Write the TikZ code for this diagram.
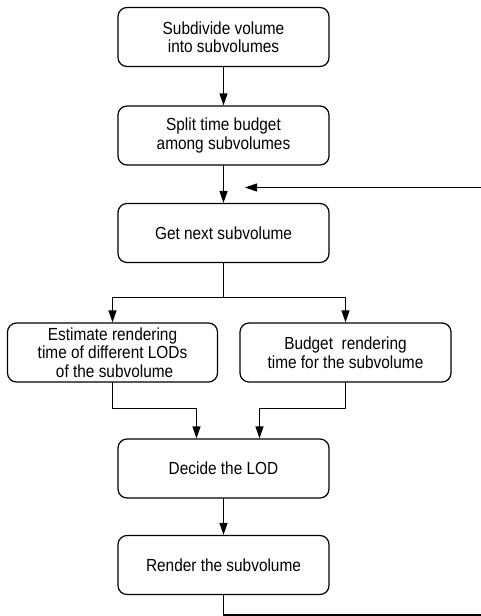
\documentclass[tikz,border=0pt]{standalone}
\usepackage{fontspec}
\setmainfont[FakeStretch=0.88]{Liberation Sans}
\usetikzlibrary{arrows.meta}

\begin{document}
\begin{tikzpicture}[x=1pt,y=-1pt,line cap=round,line join=round,
  stepbox/.style={draw,rounded corners=9pt,line width=1.2pt,minimum width=211pt,
    minimum height=59pt,inner sep=0pt,align=center,font=\fontsize{17.5}{18.5}\selectfont},
  flow/.style={line width=1.2pt,-{Triangle[length=12pt,width=8pt]}},
  link/.style={line width=1.2pt}]
  \useasboundingbox (0,0) rectangle (481,616);

  \node[stepbox] (subdiv) at (223.5,37) {Subdivide volume\\into subvolumes};
  \node[stepbox] (split) at (223.5,135.5) {Split time budget\\among subvolumes};
  \node[stepbox] (next) at (223.5,233) {Get next subvolume};
  \node[stepbox,minimum width=210pt] (estim) at (112.5,352.5) {Estimate rendering\\time of different LODs\\\ of the subvolume};
  \node[stepbox] (budget) at (345.5,352.5) {Budget\ \ rendering\\time for the subvolume};
  \node[stepbox] (decide) at (223.5,468.5) {Decide the LOD};
  \node[stepbox] (render) at (223.5,565) {Render the subvolume};

  \coordinate (fork) at (223.5,297.5);
  \coordinate (loopin) at (481,187.5);
  \coordinate (loopend) at (245,187.5);
  \coordinate (loopout) at (481,615);

  \draw[flow] (subdiv) -- (split);
  \draw[flow] (split) -- (next);
  \draw[flow] (loopin) -- (loopend);
  \draw[link] (next.south) -- (fork);
  \draw[flow] (fork) -| (estim.north);
  \draw[flow] (fork) -| (budget.north);
  \draw[flow] (estim.south) -- ++(0,25.5) -| ([xshift=-27pt]decide.north);
  \draw[flow] (budget.south) -- ++(0,25.5) -| ([xshift=36pt]decide.north);
  \draw[flow] (decide) -- (render);
  \draw[link] (render.south) |- (loopout);
\end{tikzpicture}
\end{document}
